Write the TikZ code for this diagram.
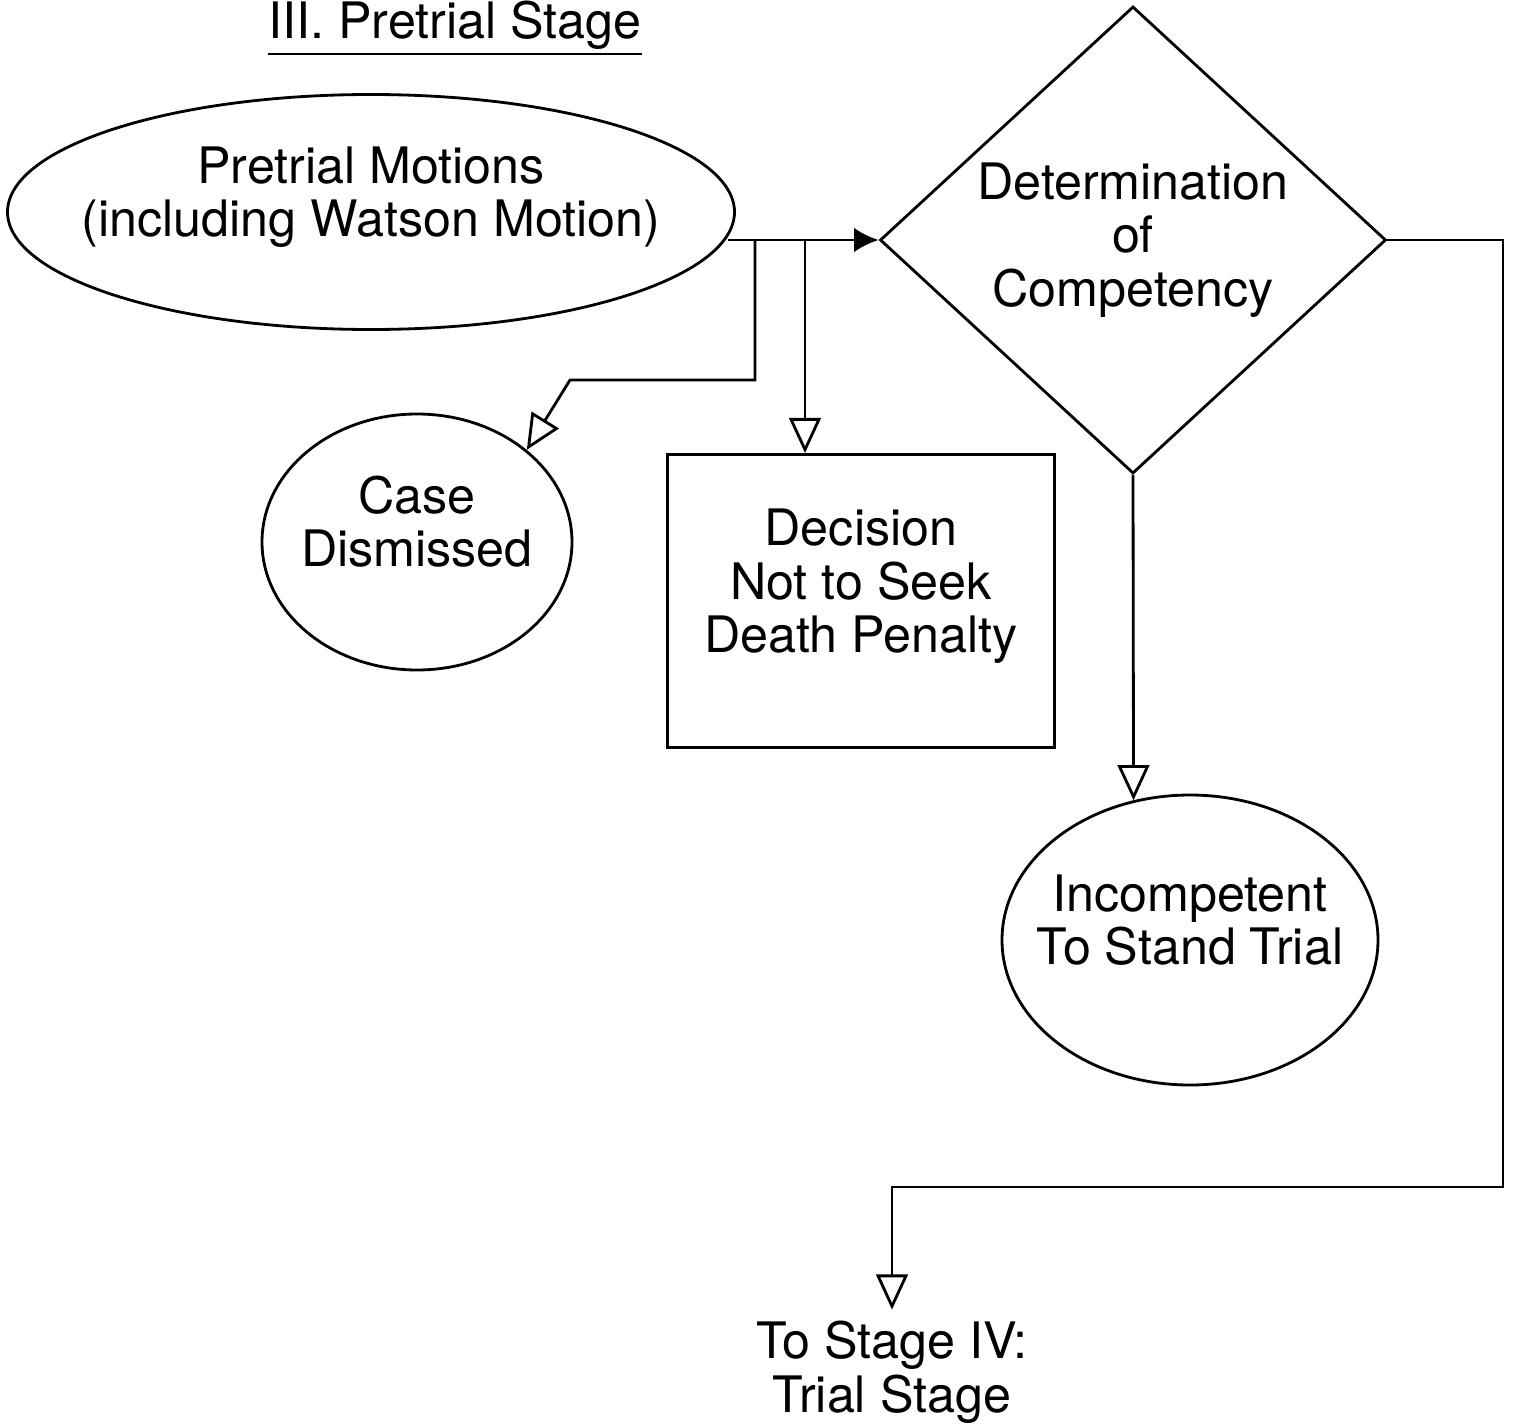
\documentclass[tikz,border=0pt]{standalone}
\usepackage{fontspec}
\setmainfont{TeX Gyre Heros}
\usetikzlibrary{shapes.geometric,arrows.meta}

% text lines that do not widen the shape round them
\newcommand{\boxlines}[1]{\smash{\makebox[0pt]{\begin{tabular}{@{}c@{}}#1\end{tabular}}}}

\begin{document}
\begin{tikzpicture}[font=\fontsize{14.3}{15.3}\selectfont]
        \useasboundingbox (0,0) rectangle (15.21,-14.26);
        \begin{scope}
            \node[anchor=base] (title) at (4.55,-0.38) {\underline{III. Pretrial Stage}};
            \begin{scope}[every node/.style={thick,draw,align=center,inner sep=0pt}]
              \node[ellipse,minimum width=7.27cm,minimum height=2.35cm] (motions) at (3.71,-2.12) {\boxlines{Pretrial Motions\\(including Watson Motion)}};
              \node[diamond,minimum width=5.06cm,minimum height=4.67cm] (comp) at (11.33,-2.40) {Determination\\of\\Competency};
              \node[ellipse,minimum width=3.10cm,minimum height=2.56cm] (dismissed) at (4.17,-5.42) {\boxlines{Case\\Dismissed}};
              \node[rectangle,minimum width=3.87cm,minimum height=2.93cm] (decision) at (8.61,-6.01) {\boxlines{Decision\\Not to Seek\\Death Penalty}};
              \node[ellipse,minimum width=3.76cm,minimum height=2.90cm] (incomp) at (11.90,-9.40) {\boxlines{Incompetent\\To Stand Trial}};
            \end{scope}
            \node[align=center,inner sep=3pt] (trial) at (8.92,-13.72) {To Stage IV:\\Trial Stage};
            \coordinate (out) at (motions.-4.4 |- comp.west);
            \coordinate (split1) at (7.55,-2.40);
            \coordinate (bend1) at (7.55,-3.80);
            \coordinate (bend2) at (5.70,-3.80);
            \coordinate (split2) at (8.05,-2.40);
            \coordinate (corner) at (15.03,-11.87);
            \begin{scope}[every edge/.style={draw=black,thick},
                          open arrow/.style={-{Triangle[open,width=9pt,length=10pt]}},
                          solid arrow/.style={-{Latex[width=7pt,length=7pt]}}]
                \path (out) edge[solid arrow] (comp.west)
                      (split2) edge[open arrow] (split2 |- decision.north)
                      (comp.south) edge[open arrow] (incomp.112.4);
                \draw[thick,open arrow] (split1) -- (bend1) -- (bend2) -- (dismissed.40);
                \draw[thick,open arrow] (comp.east) -| (corner) -| (trial.north);
            \end{scope}
        \end{scope}
    \end{tikzpicture}
\end{document}
